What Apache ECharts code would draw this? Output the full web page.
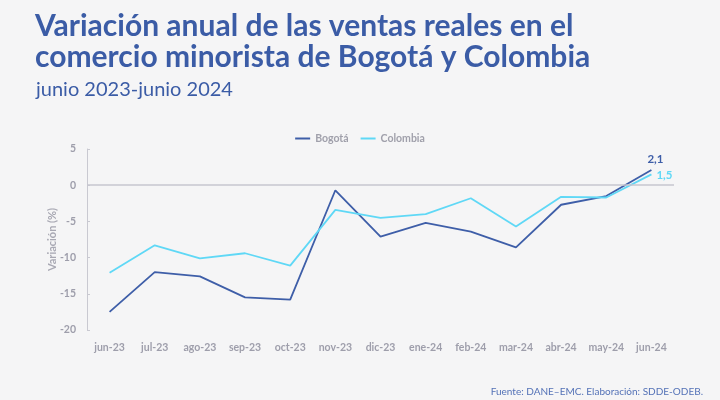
<!DOCTYPE html>
<html><head><meta charset="utf-8">
<script src="https://cdn.jsdelivr.net/npm/echarts@6/dist/echarts.min.js"></script>
<style>html,body{margin:0;padding:0;background:#f5f5f6;}#c{width:720px;height:400px;}</style>
</head><body><div id="c"></div>
<script>
var categories = ['jun-23','jul-23','ago-23','sep-23','oct-23','nov-23','dic-23','ene-24','feb-24','mar-24','abr-24','may-24','jun-24'];
var bogota = [-17.5,-12.0,-12.6,-15.5,-15.8,-0.7,-7.1,-5.2,-6.4,-8.6,-2.7,-1.5,2.1];
var colombia = [-12.1,-8.3,-10.1,-9.4,-11.1,-3.4,-4.5,-4.0,-1.8,-5.7,-1.6,-1.7,1.5];
var yTicks = [-20,-15,-10,-5,0,5];

var chart = echarts.init(document.getElementById('c'));
var fam = 'Lato, "Noto Sans", sans-serif';
function fmt(p){ return String(p.value).replace('.', ','); }
chart.setOption({
  animation: false,
  backgroundColor: '#f5f5f6',
  textStyle: {fontFamily: fam},
  title: [
    {text: 'Variación anual de las ventas reales en el\ncomercio minorista de Bogotá y Colombia', left: 30, top: 6,
     textStyle: {fontFamily: fam, fontSize: 30, fontWeight: 'bold', color: '#3b5ca6', lineHeight: 31}},
    {text: 'junio 2023-junio 2024', left: 31, top: 75,
     textStyle: {fontFamily: fam, fontSize: 20, fontWeight: 'normal', color: '#3b5ca6'}},
    {text: 'Fuente: DANE–EMC. Elaboración: SDDE-ODEB.', right: 12, top: 382,
     textStyle: {fontFamily: fam, fontSize: 10, fontWeight: 'normal', color: '#5472b7'}}
  ],
  legend: {
    top: 128, left: 'center', itemWidth: 15, itemHeight: 2, itemGap: 12, icon: 'rect',
    textStyle: {color: '#a0a0ab', fontSize: 10.5, fontWeight: 'bold', fontFamily: fam},
    data: ['Bogotá','Colombia']
  },
  grid: {left: 87, right: 46, top: 149, bottom: 70},
  xAxis: {
    type: 'category', data: categories, boundaryGap: true,
    axisLine: {show: false}, axisTick: {show: false},
    axisLabel: {interval: 0, color: '#9e9eab', fontSize: 10.5, fontWeight: 'bold', margin: 12, fontFamily: fam}
  },
  yAxis: {
    type: 'value', min: -20, max: 5, interval: 5,
    name: 'Variación (%)', nameLocation: 'middle', nameGap: 29, nameRotate: 90, nameMoveOverlap: false,
    nameTextStyle: {color: '#a8a8b3', fontSize: 11, fontWeight: 'bold', fontFamily: fam},
    axisLine: {show: true, lineStyle: {color: '#c9c9d1', width: 1}},
    axisTick: {show: true, inside: true, length: 3, lineStyle: {color: '#c9c9d1'}},
    splitLine: {show: false},
    axisLabel: {color: '#9e9eab', fontSize: 10.5, fontWeight: 'bold', margin: 11, fontFamily: fam,
      formatter: function(v){ return yTicks.indexOf(v) >= 0 ? String(v) : ''; }}
  },
  series: [
    {name: 'Bogotá', type: 'line', data: bogota, symbol: 'none',
     lineStyle: {color: '#3e5ea8', width: 1.8}, itemStyle: {color: '#3e5ea8'},
     endLabel: {show: true, distance: 5, offset: [-9, -11], color: '#3e5ea8', fontWeight: 'bold', fontSize: 11.5, fontFamily: fam,
       formatter: fmt},
     markLine: {silent: true, symbol: 'none', label: {show: false},
       lineStyle: {color: '#c6c6cf', type: 'solid', width: 1.5}, data: [{yAxis: 0}]}},
    {name: 'Colombia', type: 'line', data: colombia, symbol: 'none',
     lineStyle: {color: '#5fd8f6', width: 1.8}, itemStyle: {color: '#5fd8f6'},
     endLabel: {show: true, distance: 5, offset: [0, 1], color: '#5fd8f6', fontWeight: 'bold', fontSize: 11.5, fontFamily: fam,
       formatter: fmt}}
  ]
});
</script></body></html>
